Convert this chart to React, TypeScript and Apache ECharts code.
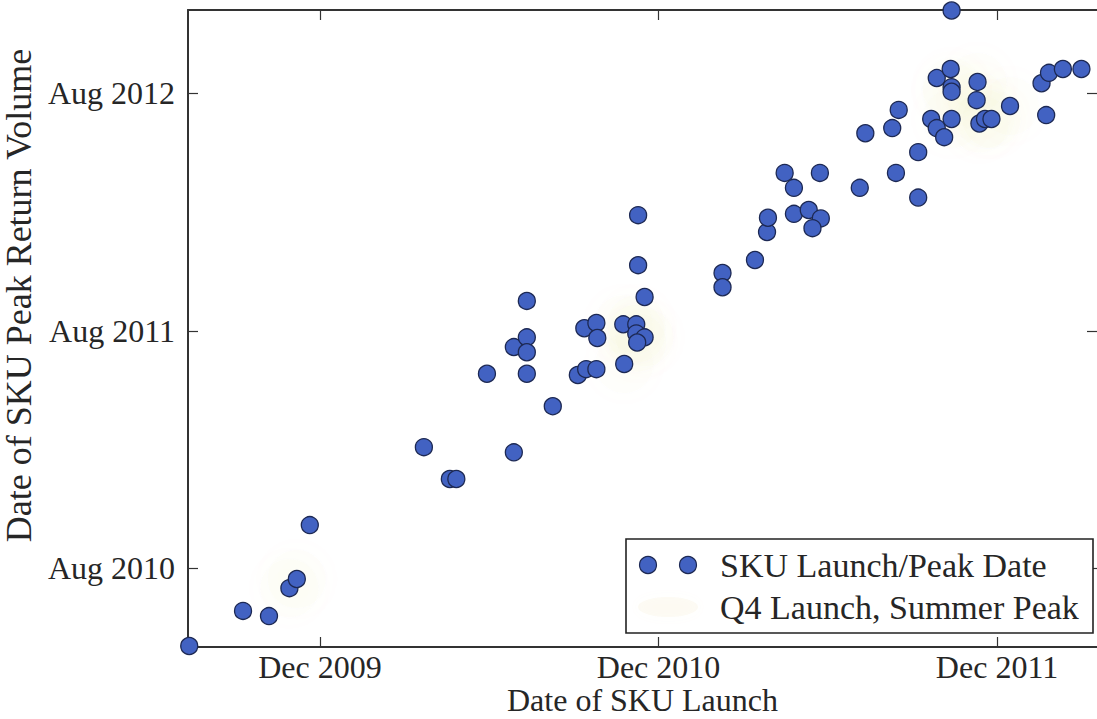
import React, { useEffect, useRef } from "react";
import * as echarts from "echarts";

// Launch date (x) and peak return-volume date (y) of each SKU
const launchDates: string[] = [
  "2009-07-13", "2009-09-09", "2009-10-07", "2009-10-29", "2009-11-06", "2009-11-20",
  "2010-03-23", "2010-04-20", "2010-04-27", "2010-05-30", "2010-06-28", "2010-06-28",
  "2010-07-12", "2010-07-12", "2010-07-12", "2010-07-12", "2010-08-09", "2010-09-05",
  "2010-09-14", "2010-09-25", "2010-09-12", "2010-09-25", "2010-09-26", "2010-10-24",
  "2010-10-25", "2010-11-07", "2010-11-07", "2010-11-16", "2010-11-08", "2010-11-09",
  "2010-11-09", "2010-11-16", "2011-02-08", "2011-02-08", "2011-03-15", "2011-03-28",
  "2011-03-29", "2011-04-26", "2011-05-12", "2011-05-25", "2011-05-16", "2011-04-16",
  "2011-04-26", "2011-05-24", "2011-07-06", "2011-07-12", "2011-08-10", "2011-08-17",
  "2011-08-14", "2011-09-07", "2011-09-07", "2011-09-21", "2011-09-27", "2011-10-05",
  "2011-10-13", "2011-09-27", "2011-10-12", "2011-10-13", "2011-10-13", "2011-10-13",
  "2011-11-10", "2011-11-09", "2011-11-12", "2011-11-18", "2011-11-25", "2011-12-15",
  "2012-01-18", "2012-01-26", "2012-02-10", "2012-03-01", "2012-01-23",
];

const peakDates: string[] = [
  "2010-04-03", "2010-05-27", "2010-05-19", "2010-07-01", "2010-07-15", "2010-10-06",
  "2011-02-03", "2010-12-16", "2010-12-16", "2011-05-27", "2011-01-26", "2011-07-07",
  "2011-09-16", "2011-07-22", "2011-06-29", "2011-05-27", "2011-04-07", "2011-05-25",
  "2011-06-03", "2011-06-03", "2011-08-05", "2011-08-13", "2011-07-21", "2011-08-11",
  "2011-06-11", "2011-08-11", "2011-07-28", "2011-07-22", "2011-07-14", "2012-01-26",
  "2011-11-10", "2011-09-22", "2011-10-29", "2011-10-07", "2011-11-18", "2011-12-31",
  "2012-01-22", "2012-01-28", "2012-02-03", "2012-01-21", "2012-01-06", "2012-03-31",
  "2012-03-08", "2012-03-31", "2012-03-08", "2012-05-31", "2012-06-08", "2012-07-06",
  "2012-03-31", "2012-05-02", "2012-02-22", "2012-06-22", "2012-06-08", "2012-05-25",
  "2012-06-22", "2012-08-24", "2012-09-07", "2012-08-10", "2012-08-03", "2012-12-06",
  "2012-08-18", "2012-07-21", "2012-06-15", "2012-06-22", "2012-06-22", "2012-07-12",
  "2012-08-16", "2012-09-01", "2012-09-07", "2012-09-07", "2012-06-28",
];

const xTickDates: string[] = ["2009-12-01", "2010-12-01", "2011-12-01"];
const yTickDates: string[] = ["2010-08-01", "2011-08-01", "2012-08-01"];
const xRange: string[] = ["2009-07-11T16:00:00Z", "2012-03-17T19:00:00Z"];
const yRange: string[] = ["2010-04-01T10:00:00Z", "2012-12-06T17:30:00Z"];

const monthNames = ["Jan", "Feb", "Mar", "Apr", "May", "Jun", "Jul", "Aug", "Sep", "Oct", "Nov", "Dec"];
const q4Months = [9, 10, 11];
const summerMonths = [5, 6, 7];

const seriesName = "SKU Launch/Peak Date";
const highlightName = "Q4 Launch, Summer Peak";

const FONT = "'Liberation Serif', 'Times New Roman', serif";
const TEXT = "#262626";
const AXIS = "#333333";
const DOT = "#4262c2";
const DOT_EDGE = "#1d2954";
const GLOW = "rgba(240, 226, 170, 0.06)";
const GLOW_SHADOW = "rgba(240, 226, 170, 0.3)";

function fmtDate(v: number): string {
  const d = new Date(v);
  return monthNames[d.getUTCMonth()] + " " + d.getUTCFullYear();
}

export default function App() {
  const ref = useRef<HTMLDivElement>(null);

  useEffect(() => {
    if (!ref.current) return;
    const chart = echarts.init(ref.current, undefined, { renderer: "svg" });

    const points = launchDates.map((d, i) => [Date.parse(d), Date.parse(peakDates[i])]);
    const highlighted = points.filter(
      (p) =>
        q4Months.includes(new Date(p[0]).getUTCMonth()) &&
        summerMonths.includes(new Date(p[1]).getUTCMonth())
    );

    const xTicks = xTickDates.map((d) => Date.parse(d));
    const yTicks = yTickDates.map((d) => Date.parse(d));

    const tickStyle = { show: true, inside: true, length: 10, lineStyle: { color: AXIS, width: 1.2 } };

    chart.setOption({
      animation: false,
      backgroundColor: "#ffffff",
      grid: {
        left: 188,
        top: 10,
        right: 0,
        bottom: 72,
        containLabel: false,
        outerBoundsMode: "none",
      },
      xAxis: [
        {
          type: "value",
          min: Date.parse(xRange[0]),
          max: Date.parse(xRange[1]),
          name: "Date of SKU Launch",
          nameLocation: "middle",
          nameGap: 37,
          nameMoveOverlap: false,
          nameTextStyle: { fontFamily: FONT, fontSize: 32, lineHeight: 32, color: TEXT },
          axisLine: { show: true, onZero: false, lineStyle: { color: AXIS, width: 2 } },
          axisTick: { ...tickStyle, customValues: xTicks },
          axisLabel: {
            customValues: xTicks,
            formatter: (v: number) => fmtDate(v),
            fontFamily: FONT,
            fontSize: 32,
            lineHeight: 32,
            color: TEXT,
            margin: 4,
          },
          splitLine: { show: false },
        },
        {
          type: "value",
          position: "top",
          min: Date.parse(xRange[0]),
          max: Date.parse(xRange[1]),
          axisLine: { show: true, onZero: false, lineStyle: { color: AXIS, width: 2 } },
          axisTick: { ...tickStyle, customValues: xTicks },
          axisLabel: { show: false, customValues: xTicks },
          splitLine: { show: false },
        },
      ],
      yAxis: [
        {
          type: "value",
          min: Date.parse(yRange[0]),
          max: Date.parse(yRange[1]),
          name: "Date of SKU Peak Return Volume",
          nameLocation: "middle",
          nameGap: 146,
          nameTextStyle: {
            fontFamily: FONT,
            fontSize: 36,
            color: TEXT,
            padding: [0, 0, 0, 66],
          },
          axisLine: { show: true, onZero: false, lineStyle: { color: AXIS, width: 2 } },
          axisTick: { ...tickStyle, customValues: yTicks },
          axisLabel: {
            customValues: yTicks,
            formatter: (v: number) => fmtDate(v),
            fontFamily: FONT,
            fontSize: 32,
            color: TEXT,
            margin: 13,
          },
          splitLine: { show: false },
        },
        {
          type: "value",
          position: "right",
          min: Date.parse(yRange[0]),
          max: Date.parse(yRange[1]),
          axisLine: { show: false },
          axisTick: { ...tickStyle, customValues: yTicks },
          axisLabel: { show: false, customValues: yTicks },
          splitLine: { show: false },
        },
      ],
      series: [
        {
          name: highlightName,
          type: "scatter",
          z: 1,
          silent: true,
          symbolSize: 58,
          data: highlighted,
          itemStyle: {
            color: GLOW,
            shadowBlur: 24,
            shadowColor: GLOW_SHADOW,
          },
        },
        {
          name: seriesName,
          type: "scatter",
          z: 3,
          symbolSize: 17,
          data: points,
          itemStyle: { color: DOT, borderColor: DOT_EDGE, borderWidth: 1.3, opacity: 1 },
        },
      ],
      graphic: [
        {
          type: "rect",
          z: 100,
          shape: { x: 626, y: 539, width: 467, height: 94 },
          style: { fill: "#ffffff", stroke: "#222222", lineWidth: 1.6 },
        },
        {
          type: "circle",
          z: 101,
          shape: { cx: 648, cy: 565, r: 8.5 },
          style: { fill: DOT, stroke: DOT_EDGE, lineWidth: 1.2 },
        },
        {
          type: "circle",
          z: 101,
          shape: { cx: 688, cy: 565, r: 8.5 },
          style: { fill: DOT, stroke: DOT_EDGE, lineWidth: 1.2 },
        },
        {
          type: "ellipse",
          z: 101,
          shape: { cx: 668, cy: 607, rx: 30, ry: 10 },
          style: {
            fill: "rgba(240, 226, 170, 0.12)",
            shadowBlur: 10,
            shadowColor: GLOW_SHADOW,
          },
        },
        {
          type: "text",
          z: 101,
          x: 720,
          y: 565,
          style: {
            text: seriesName,
            fontFamily: FONT,
            fontSize: 34,
            fill: TEXT,
            verticalAlign: "middle",
            align: "left",
          },
        },
        {
          type: "text",
          z: 101,
          x: 720,
          y: 607,
          style: {
            text: highlightName,
            fontFamily: FONT,
            fontSize: 34,
            fill: TEXT,
            verticalAlign: "middle",
            align: "left",
          },
        },
      ],
    });

    return () => chart.dispose();
  }, []);

  return (
    <div
      ref={ref}
      style={{ position: "fixed", left: 0, top: 0, width: 1097, height: 719, background: "#fff" }}
    />
  );
}
